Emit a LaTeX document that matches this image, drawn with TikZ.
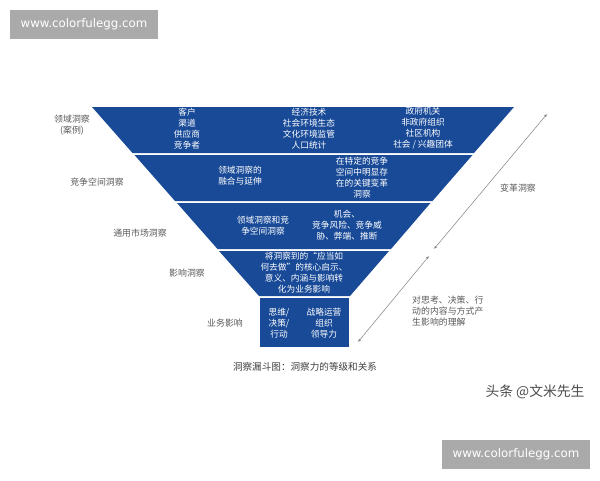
\documentclass[tikz,border=0pt]{standalone}
\usepackage{fontspec}
\usepackage{xcolor}
\usetikzlibrary{arrows.meta}
\newfontfamily\cjk{Noto Sans CJK SC}
\newfontfamily\wmfont{DejaVu Sans}
\definecolor{funnelblue}{RGB}{24,74,152}
\definecolor{labelgray}{RGB}{90,90,90}
\definecolor{wmgray}{RGB}{170,170,170}

\begin{document}
\begin{tikzpicture}[x=1pt,y=-1pt,
  band/.style={fill=funnelblue,draw=none},
  intext/.style={text=white,font=\cjk\fontsize{8.7}{11}\selectfont,align=center,inner sep=0pt},
  sidelabel/.style={text=labelgray,font=\cjk\fontsize{8.9}{11}\selectfont,align=center,inner sep=0pt},
  wmbox/.style={fill=wmgray,text=white,font=\wmfont\fontsize{11.8}{13}\selectfont,minimum width=148pt,minimum height=29pt,inner sep=0pt}]
\useasboundingbox (0,0) rectangle (600,480);
% funnel bands
\fill [band] (92,107) -- (514,107) -- (474,153) -- (132.5,153) -- cycle;
\fill [band] (134.5,155) -- (472.5,155) -- (432.5,201) -- (175,201) -- cycle;
\fill [band] (177,203) -- (430.5,203) -- (391,249) -- (217.5,249) -- cycle;
\fill [band] (219,251) -- (389,251) -- (350,296) -- (259,296) -- cycle;
\fill [band] (260,298) rectangle (349,347);
% texts in the bands
\node [intext] (kehu) at (187,128.5) {客户\\渠道\\供应商\\竞争者};
\node [intext] (jingji) at (309,128.5) {经济技术\\社会环境生态\\文化环境监管\\人口统计};
\node [intext] (zhengfu) at (423,128.5) {政府机关\\非政府组织\\社区机构\\社会 / 兴趣团体};
\node [intext] (ronghe) at (240,176) {领域洞察的\\融合与延伸};
\node [intext] (biange) at (362,178) {在特定的竞争\\空间中明显存\\在的关键变革\\洞察};
\node [intext] (lingyu) at (263,226) {领域洞察和竞\\争空间洞察};
\node [intext] (jihui) at (347,225) {机会、\\竞争风险、竞争威\\胁、弊端、推断};
\node [intext] (qishi) at (304,273) {将洞察到的“应当如\\何去做”的核心启示、\\意义、内涵与影响转\\化为业务影响};
\node [intext] (siwei) at (279,323) {思维/\\决策/\\行动};
\node [intext] (zhanlue) at (324,323) {战略运营\\组织\\领导力};
% labels on the left
\node [sidelabel] (l1) at (72,125) {领域洞察\\(案例)};
\node [sidelabel] (l2) at (97,182) {竞争空间洞察};
\node [sidelabel] (l3) at (140,233) {通用市场洞察};
\node [sidelabel] (l4) at (187,273) {影响洞察};
\node [sidelabel] (l5) at (225,323) {业务影响};
% right side
\node [sidelabel] (r1) at (518,188) {变革洞察};
\node [sidelabel,align=left,anchor=west] (r2) at (412,311) {对思考、决策、行\\动的内容与方式产\\生影响的理解};
\coordinate (a1) at (547,114);
\coordinate (a2) at (434,249);
\coordinate (b1) at (429,256);
\coordinate (b2) at (358,342);
\draw [gray,line width=0.5pt,{Latex[length=3pt,width=2.5pt]}-{Latex[length=3pt,width=2.5pt]}] (a1)--(a2);
\draw [gray,line width=0.5pt,{Latex[length=3pt,width=2.5pt]}-{Latex[length=3pt,width=2.5pt]}] (b1)--(b2);
% caption
\node [sidelabel,text=black!75,font=\cjk\fontsize{9.6}{11}\selectfont] (cap) at (305,367) {洞察漏斗图：洞察力的等级和关系};
\node [text=black!70,font=\cjk\fontsize{13.8}{15}\selectfont,inner sep=0pt] (toutiao) at (535,392) {头条 @文米先生};
% watermarks
\node [wmbox] (wm1) at (84,24.5) {www.colorfulegg.com};
\node [wmbox] (wm2) at (516,454.5) {www.colorfulegg.com};
\end{tikzpicture}
\end{document}
